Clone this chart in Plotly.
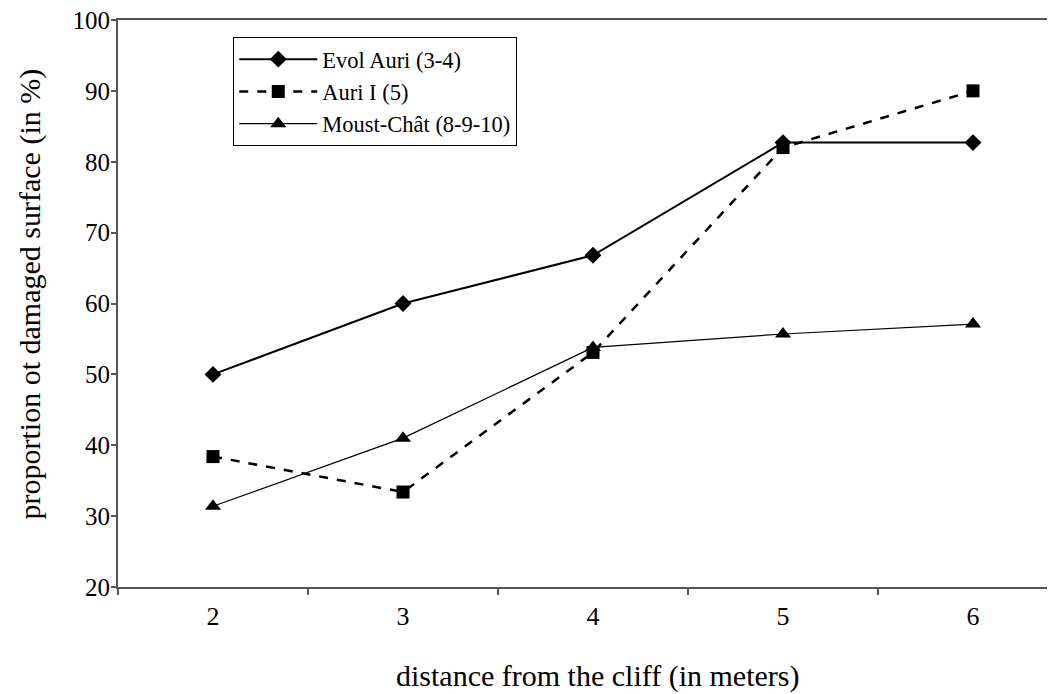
import plotly.graph_objects as go

distance = [2, 3, 4, 5, 6]
evol_auri = [50, 60, 66.8, 82.7, 82.7]
auri_i = [38.4, 33.4, 53.1, 82.0, 90.0]
moust_chat = [31.4, 41.0, 53.8, 55.7, 57.1]
y_ticks = [20, 30, 40, 50, 60, 70, 80, 90, 100]

FONT = "Liberation Serif, Times New Roman, serif"
AXC = "#555"

fig = go.Figure()
fig.add_trace(go.Scatter(
    x=distance, y=evol_auri, name="Evol Auri (3-4)", mode="lines+markers",
    line=dict(color="black", width=2),
    marker=dict(symbol="diamond", size=13, color="black")))
fig.add_trace(go.Scatter(
    x=distance, y=auri_i, name="Auri I (5)", mode="lines+markers",
    line=dict(color="black", width=2.5, dash="dash"),
    marker=dict(symbol="square", size=13, color="black")))
fig.add_trace(go.Scatter(
    x=distance, y=moust_chat, name="Moust-Chât (8-9-10)", mode="lines+markers",
    line=dict(color="black", width=1.2),
    marker=dict(symbol="triangle-up", size=14, color="black")))

fig.update_layout(
    width=1055, height=694,
    margin=dict(l=110, r=8, t=12, b=115),
    paper_bgcolor="white", plot_bgcolor="white",
    font=dict(family=FONT, color="black", size=24),
    showlegend=True,
    legend=dict(x=0.123, y=0.97, xanchor="left", yanchor="top",
                bordercolor="black", borderwidth=1, bgcolor="white",
                font=dict(size=22.5, family=FONT), tracegroupgap=0,
                itemwidth=78),
    xaxis=dict(range=[1.5, 6.4316], tickvals=distance, ticktext=[str(d) for d in distance],
               ticks="", showgrid=False, zeroline=False, automargin=False,
               showline=True, linecolor=AXC, linewidth=2, mirror=True,
               tickfont=dict(size=26, family=FONT), ticklabelstandoff=5,
               minor=dict(tickvals=[1.5, 2.5, 3.5, 4.5, 5.5], ticks="outside",
                          ticklen=6, tickcolor=AXC, tickwidth=1.5, showgrid=False)),
    yaxis=dict(range=[20, 100], tickvals=y_ticks, ticks="outside", ticklen=5,
               tickcolor=AXC, tickwidth=1.5, showgrid=False, zeroline=False,
               showline=True, linecolor=AXC, linewidth=2, automargin=False,
               ticklabeloverflow="allow", ticklabelstandoff=-4,
               tickfont=dict(size=25, family=FONT)),
    annotations=[
        dict(text="distance from the cliff (in meters)", xref="paper", yref="paper",
             x=0.512, y=-0.157, xanchor="center", yanchor="middle", showarrow=False,
             font=dict(size=30, family=FONT)),
        dict(text="proportion ot damaged surface (in %)", xref="paper", yref="paper",
             x=-0.094, y=0.5176, xanchor="center", yanchor="middle", showarrow=False,
             textangle=-90, font=dict(size=30, family=FONT)),
    ],
)

fig.write_html("out.html")
